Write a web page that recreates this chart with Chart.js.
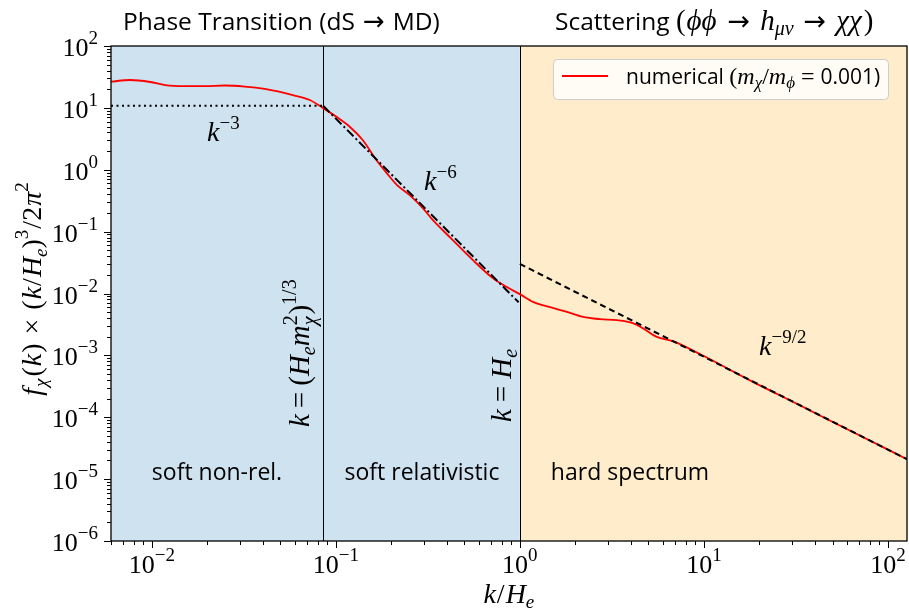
<!DOCTYPE html>
<html><head><meta charset="utf-8">
<script src="https://cdn.jsdelivr.net/npm/chart.js@4"></script>
<style>html,body{margin:0;padding:0;background:#fff}canvas{display:block}</style>
</head><body>
<canvas id="c" width="909" height="610"></canvas>
<script>
// ---- data ----
const xRange = [0.006, 127];
const yRange = [1e-6, 100];
const numK = [0.006, 0.0076, 0.0098, 0.0118, 0.0151, 0.0194, 0.0249, 0.032, 0.0411, 0.0584, 0.0722, 0.0849,
  0.1012, 0.119, 0.140, 0.163, 0.189, 0.215, 0.252, 0.297, 0.337, 0.432, 0.556, 0.713, 0.850, 1.0,
  1.18, 1.46, 1.80, 2.20, 2.72, 3.37, 4.11, 4.66, 5.55, 6.79, 9.51, 17.8, 33.2, 62.1, 127];
const numF = [26.5, 28.2, 26.2, 23.4, 22.5, 22.5, 23.0, 22.1, 20.2, 16.1, 13.4, 10.0,
  7.1, 4.95, 3.02, 1.55, 0.883, 0.565, 0.390, 0.240, 0.153, 0.0729, 0.0346, 0.0177, 0.0127, 0.00977,
  0.00733, 0.0060, 0.00505, 0.00419, 0.00385, 0.00371, 0.00332, 0.00275, 0.00199, 0.00170, 0.00105, 0.000395, 0.000156, 6.1e-5, 2.1e-5];
const lowK = [0.006, 0.0853];   const lowF = [10.8, 10.8];     // k^-3 (dotted)
const midK = [0.0853, 0.985];   const midF = [10.8, 0.0072];   // k^-6 (dash-dot)
const highK = [1.0, 127];       const highF = [0.030, 2.1e-5]; // k^-9/2 (dashed)
const kNR = 0.0853, kHe = 1.0;
const xTickExp = [-2, -1, 0, 1, 2];
const yTickExp = [-6, -5, -4, -3, -2, -1, 0, 1, 2];

// ---- text helpers ----
const SERIF = '"Liberation Serif", "DejaVu Serif", serif';
const SANS = '"Open Sans", "DejaVu Sans", sans-serif';
const ARROWF = '"DejaVu Sans", sans-serif';
function fnt(g){ const z = g.z || 26;
  if (g.s === 'i') return `italic ${z}px ${SERIF}`;
  if (g.s === 's') return `${z}px ${SANS}`;
  if (g.s === 'a') return `${z}px ${ARROWF}`;
  return `${z}px ${SERIF}`; }
function rw(ctx, segs){ let w = 0; for (const g of segs){ ctx.font = fnt(g); w += (g.pre||0) + ctx.measureText(g.t).width + (g.gap||0);} return w; }
function drawRich(ctx, segs, x, y, align, rot){
  ctx.save(); ctx.translate(x, y); if (rot) ctx.rotate(rot);
  const w = rw(ctx, segs);
  let cx = align === 'center' ? -w/2 : align === 'right' ? -w : 0;
  ctx.textAlign = 'left'; ctx.textBaseline = 'alphabetic'; ctx.fillStyle = '#000';
  for (const g of segs){ ctx.font = fnt(g); cx += (g.pre||0); ctx.fillText(g.t, cx, g.dy||0); cx += ctx.measureText(g.t).width + (g.gap||0); }
  ctx.restore();
}
const sup = (t, z, dy) => ({t, s:'r', z: z||18, dy: dy||-11});

const deco = {
  id: 'deco',
  beforeDatasetsDraw(chart){
    const {ctx, chartArea:a, scales:{x, y}} = chart;
    const xh = x.getPixelForValue(kHe);
    ctx.save();
    ctx.fillStyle = '#cfe2ef'; ctx.fillRect(a.left, a.top, xh - a.left, a.bottom - a.top);
    ctx.fillStyle = '#feecca'; ctx.fillRect(xh, a.top, a.right - xh, a.bottom - a.top);
    ctx.strokeStyle = '#000'; ctx.lineWidth = 1;
    for (const k of [kNR, kHe]){ const px = Math.round(x.getPixelForValue(k)) + 0.5;
      ctx.beginPath(); ctx.moveTo(px, a.top); ctx.lineTo(px, a.bottom); ctx.stroke(); }
    ctx.restore();
  },
  afterDatasetsDraw(chart){
    const {ctx, chartArea:a, scales:{x, y}} = chart;
    ctx.save();
    // frame
    ctx.strokeStyle = '#000'; ctx.lineWidth = 1.3;
    ctx.strokeRect(a.left, a.top, a.right - a.left, a.bottom - a.top);
    // ticks
    ctx.lineWidth = 1;
    for (let e = -3; e <= 2; e++) for (let m = 1; m <= 9; m++){
      const v = m * Math.pow(10, e); if (v < xRange[0]*0.999 || v > xRange[1]) continue;
      const px = Math.round(x.getPixelForValue(v)) + 0.5, L = m === 1 ? 7 : 4;
      ctx.beginPath(); ctx.moveTo(px, a.bottom); ctx.lineTo(px, a.bottom + L); ctx.stroke();
    }
    for (let e = -6; e <= 2; e++) for (let m = 1; m <= 9; m++){
      const v = m * Math.pow(10, e); if (v < yRange[0]*0.999 || v > yRange[1]*1.001) continue;
      const py = Math.round(y.getPixelForValue(v)) + 0.5, L = m === 1 ? 7 : 4;
      ctx.beginPath(); ctx.moveTo(a.left, py); ctx.lineTo(a.left - L, py); ctx.stroke();
    }
    // tick labels
    for (const e of xTickExp){
      const px = x.getPixelForValue(Math.pow(10, e));
      drawRich(ctx, [{t:'10', s:'r', z:26}, sup((e < 0 ? '\u2212' : '') + Math.abs(e), 19, -12)], px, a.bottom + 32, 'center');
    }
    for (const e of yTickExp){
      const py = y.getPixelForValue(Math.pow(10, e));
      drawRich(ctx, [{t:'10', s:'r', z:26}, sup((e < 0 ? '\u2212' : '') + Math.abs(e), 19, -12)], a.left - 13, py + 10, 'right');
    }
    // axis titles
    drawRich(ctx, [{t:'k', s:'i', z:28, gap:1}, {t:'/', s:'r', z:28, gap:1}, {t:'H', s:'i', z:28}, {t:'e', s:'i', z:19, dy:5}], x.getPixelForValue(1) - 11, 603, 'center');
    drawRich(ctx, [{t:'f', s:'i', z:28, gap:1}, {t:'\u03c7', s:'i', z:19, dy:6}, {t:'(', s:'r', z:28, pre:2, gap:1}, {t:'k', s:'i', z:28, gap:1}, {t:')', s:'r', z:28},
      {t:'\u00d7', s:'r', z:28, pre:9, gap:9}, {t:'(', s:'r', z:28, gap:1}, {t:'k', s:'i', z:28, gap:1}, {t:'/', s:'r', z:28, gap:1}, {t:'H', s:'i', z:28}, {t:'e', s:'i', z:19, dy:6}, {t:')', s:'r', z:28},
      sup('3', 19, -13), {t:'/2', s:'r', z:28, pre:1, gap:1}, {t:'\u03c0', s:'i', z:28}, sup('2', 19, -13)], 41, 289, 'center', -Math.PI/2);
    // top titles
    drawRich(ctx, [{t:'Phase Transition (dS', s:'s', z:24.5}, {t:'\u2192', s:'a', z:26, pre:8, gap:8}, {t:'MD)', s:'s', z:24.5}], 123, 30, 'left');
    drawRich(ctx, [{t:'Scattering ', s:'s', z:24.5}, {t:'(', s:'r', z:29, gap:1}, {t:'\u03d5\u03d5', s:'i', z:29, gap:1}, {t:'\u2192', s:'a', z:27, pre:10, gap:10}, {t:'h', s:'i', z:29},
      {t:'\u03bc\u03bd', s:'i', z:20, dy:5}, {t:'\u2192', s:'a', z:27, pre:10, gap:10}, {t:'\u03c7\u03c7', s:'i', z:29, gap:2}, {t:')', s:'r', z:29}], 555, 30, 'left');
    // region labels
    drawRich(ctx, [{t:'soft non-rel.', s:'s', z:23}], 217, 480, 'center');
    drawRich(ctx, [{t:'soft relativistic', s:'s', z:23}], 422, 480, 'center');
    drawRich(ctx, [{t:'hard spectrum', s:'s', z:23}], 630, 480, 'center');
    // slope labels
    drawRich(ctx, [{t:'k', s:'i', z:28}, sup('\u22123', 19, -12)], 207, 141, 'left');
    drawRich(ctx, [{t:'k', s:'i', z:28}, sup('\u22126', 19, -12)], 424, 190, 'left');
    drawRich(ctx, [{t:'k', s:'i', z:28}, sup('\u22129/2', 19, -12)], 759, 355, 'left');
    // vertical labels
    drawRich(ctx, [{t:'k', s:'i', z:29}, {t:'=', s:'r', z:29, pre:6, gap:6}, {t:'(', s:'r', z:29}, {t:'H', s:'i', z:29}, {t:'e', s:'i', z:20, dy:6}, {t:'m', s:'i', z:29},
      {t:'2', s:'r', z:20, dy:-12}, {t:'\u03c7', s:'i', z:20, dy:7, pre:-10, gap:2}, {t:')', s:'r', z:29}, sup('1/3', 20, -13)], 309, 427, 'left', -Math.PI/2);
    drawRich(ctx, [{t:'k', s:'i', z:29}, {t:'=', s:'r', z:29, pre:7, gap:7}, {t:'H', s:'i', z:29}, {t:'e', s:'i', z:20, dy:6}], 511, 422, 'left', -Math.PI/2);
    // legend
    ctx.beginPath(); ctx.roundRect(553.5, 59.5, 335, 40, 4);
    ctx.fillStyle = 'rgba(255,255,255,0.8)'; ctx.fill();
    ctx.strokeStyle = '#cccccc'; ctx.lineWidth = 1; ctx.stroke();
    ctx.strokeStyle = '#ff0000'; ctx.lineWidth = 2;
    ctx.beginPath(); ctx.moveTo(562, 76); ctx.lineTo(608, 76); ctx.stroke();
    drawRich(ctx, [{t:'numerical ', s:'s', z:21}, {t:'(', s:'r', z:24}, {t:'m', s:'i', z:24}, {t:'\u03c7', s:'i', z:17, dy:4},
      {t:'/', s:'r', z:24}, {t:'m', s:'i', z:24}, {t:'\u03d5', s:'i', z:17, dy:4}, {t:'=', s:'r', z:24, pre:6, gap:6}, {t:'0.001)', s:'s', z:21}], 626, 84, 'left');
    ctx.restore();
  }
};

const pts = (xs, ys) => xs.map((v, i) => ({x: v, y: ys[i]}));
new Chart(document.getElementById('c'), {
  type: 'line',
  data: { datasets: [
    {data: pts(lowK, lowF), borderColor:'#000', borderWidth:2, borderDash:[2,3.5], pointRadius:0, order:1},
    {data: pts(midK, midF), borderColor:'#000', borderWidth:2, borderDash:[9,3,2,3], pointRadius:0, order:1},
    {data: pts(highK, highF), borderColor:'#000', borderWidth:2, borderDash:[6,4], pointRadius:0, order:1},
    {data: pts(numK, numF), borderColor:'#ff0000', borderWidth:1.8, pointRadius:0, cubicInterpolationMode:'monotone', order:2}
  ]},
  options: {
    responsive:false, animation:false, devicePixelRatio:1,
    layout:{padding:{left:111, right:2, top:46, bottom:69}},
    plugins:{legend:{display:false}, tooltip:{enabled:false}},
    scales:{
      x:{type:'logarithmic', min:xRange[0], max:xRange[1], display:false},
      y:{type:'logarithmic', min:yRange[0], max:yRange[1], display:false}
    }
  },
  plugins:[deco]
});
</script>
</body></html>
